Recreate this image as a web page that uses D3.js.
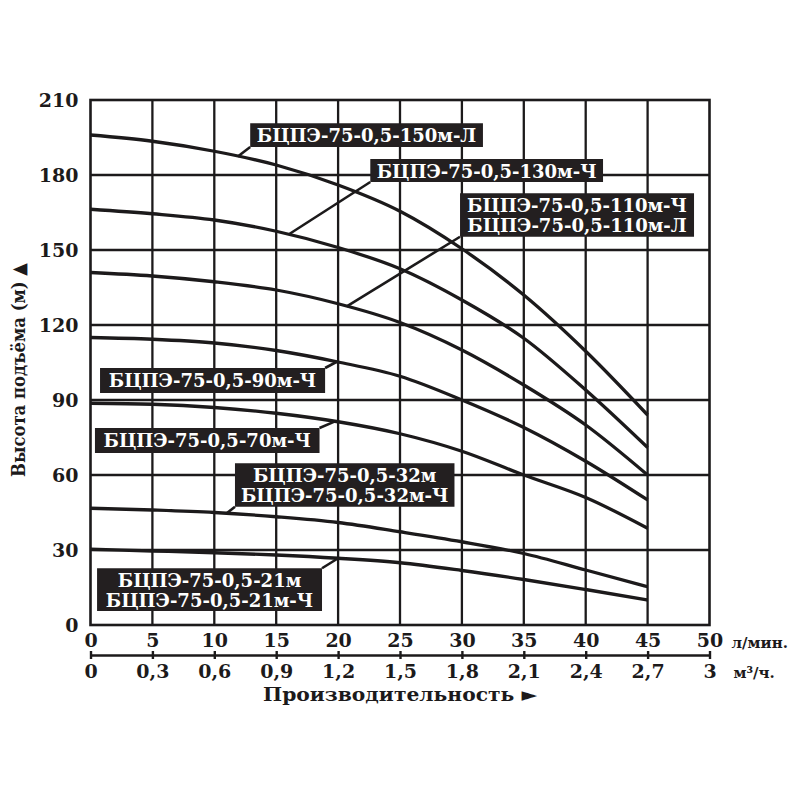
<!DOCTYPE html>
<html>
<head>
<meta charset="utf-8">
<script src="https://cdnjs.cloudflare.com/ajax/libs/d3/7.8.5/d3.min.js"></script>
<style>
  body { margin: 0; background: #fff; }
  svg { display: block; }
  text { font-family: "DejaVu Serif", "Liberation Serif", serif; font-weight: bold; fill: #1c1a1b; }
</style>
</head>
<body>
<svg id="chart" width="800" height="800"></svg>
<script>
// flow, l/min
const flow = [0, 5, 10, 15, 20, 25, 30, 35, 40, 45]

// head, m (one array per pump curve)
const head150L  = [196, 193.5, 189.5, 184, 176, 165.5, 150.5, 132, 109.5, 84]
const head130Ch = [166.3, 164.5, 162, 157.5, 151, 142.5, 130, 114.7, 94, 71]
const head110   = [141, 139.6, 137.3, 134, 128.5, 121, 110, 96, 80, 60]
const head90Ch  = [115, 114.3, 112.8, 109.8, 105.2, 99.5, 90, 79, 65.5, 50]
const head70Ch  = [88.7, 88.3, 87, 84.7, 81.3, 76.5, 69.5, 60, 51, 38.7]
const head32    = [46.7, 46, 45, 43.3, 41, 37.3, 33.3, 28.6, 22, 15.3]
const head21    = [30.3, 29.6, 28.9, 28, 26.7, 24.9, 21.8, 18.2, 14.2, 10]

const curves = [head150L, head130Ch, head110, head90Ch, head70Ch, head32, head21]

const lpmTicks = [0, 5, 10, 15, 20, 25, 30, 35, 40, 45, 50]
const m3Labels = ["0", "0,3", "0,6", "0,9", "1,2", "1,5", "1,8", "2,1", "2,4", "2,7", "3"]
const headTicks = [0, 30, 60, 90, 120, 150, 180, 210]

const labelNames = [
  ["БЦПЭ-75-0,5-150м-Л"],
  ["БЦПЭ-75-0,5-130м-Ч"],
  ["БЦПЭ-75-0,5-110м-Ч", "БЦПЭ-75-0,5-110м-Л"],
  ["БЦПЭ-75-0,5-90м-Ч"],
  ["БЦПЭ-75-0,5-70м-Ч"],
  ["БЦПЭ-75-0,5-32м", "БЦПЭ-75-0,5-32м-Ч"],
  ["БЦПЭ-75-0,5-21м", "БЦПЭ-75-0,5-21м-Ч"]
]

// label box placement in data units: [x0, x1, yTop, yBottom, corner, flow at curve]
const labelBoxes = [
  [12.9, 31.7, 200.7, 191.2, "bl", 11.9],
  [22.6, 41.4, 186.4, 177.2, "bl", 16.0],
  [29.85, 48.75, 172.7, 155.3, "bl", 20.7],
  [0.77, 18.95, 102.8, 92.8, "tr", 19.9],
  [0.36, 18.5, 78.8, 68.8, "tr", 19.75],
  [11.67, 29.4, 64.7, 47.3, "bl", 11.0],
  [0.53, 18.7, 22.7, 5.6, "tr", 20.0]
]

const margin = {left: 90.5, top: 100, right: 90.5, bottom: 175}
const width = 800 - margin.left - margin.right
const height = 800 - margin.top - margin.bottom
const ink = "#1c1a1b"

const x = d3.scaleLinear().domain([0, 50]).range([0, width])
const y = d3.scaleLinear().domain([0, 210]).range([height, 0])

const svg = d3.select("#chart")
const g = svg.append("g").attr("transform", `translate(${margin.left},${margin.top})`)

// grid
g.append("g").selectAll("line")
  .data(lpmTicks.slice(1, -1))
  .join("line")
  .attr("x1", d => x(d)).attr("x2", d => x(d))
  .attr("y1", 0).attr("y2", height)
  .attr("stroke", ink).attr("stroke-width", 2.3)

g.append("g").selectAll("line")
  .data(headTicks.slice(1, -1))
  .join("line")
  .attr("x1", 0).attr("x2", width)
  .attr("y1", d => y(d)).attr("y2", d => y(d))
  .attr("stroke", ink).attr("stroke-width", 2.3)

g.append("rect")
  .attr("width", width).attr("height", height)
  .attr("fill", "none").attr("stroke", ink).attr("stroke-width", 2.6)

// curves
const line = d3.line()
  .x((d, i) => x(flow[i]))
  .y(d => y(d))
  .curve(d3.curveMonotoneX)

g.append("g").selectAll("path")
  .data(curves)
  .join("path")
  .attr("d", line)
  .attr("fill", "none").attr("stroke", ink).attr("stroke-width", 3.3)

// axes
const yAxis = g.append("g")
  .call(d3.axisLeft(y).tickValues(headTicks).tickSize(0).tickPadding(12))
yAxis.select(".domain").remove()
yAxis.selectAll("text")
  .attr("font-size", 19).attr("font-family", null).attr("dy", "0.36em")

const xAxis = g.append("g")
  .attr("transform", `translate(0,${height})`)
  .call(d3.axisBottom(x).tickValues(lpmTicks).tickSize(0))
xAxis.select(".domain").remove()
xAxis.selectAll("text")
  .attr("font-size", 19).attr("font-family", null).attr("y", 22).attr("dy", null)

const m3Axis = g.append("g")
  .attr("transform", `translate(0,${height + 30})`)
  .call(d3.axisBottom(x).tickValues(lpmTicks).tickFormat((d, i) => m3Labels[i]).tickSizeInner(4).tickSizeOuter(0))
m3Axis.select(".domain").attr("stroke", ink).attr("stroke-width", 2.4)
m3Axis.selectAll(".tick line").attr("y1", -4).attr("stroke", ink).attr("stroke-width", 2.4)
m3Axis.selectAll("text")
  .attr("font-size", 19).attr("font-family", null).attr("y", 23).attr("dy", null)

g.append("text")
  .attr("x", width + 22).attr("y", height + 23)
  .attr("font-size", 15)
  .text("л/мин.")

g.append("text")
  .attr("x", width + 24).attr("y", height + 53)
  .attr("font-size", 15)
  .text("м³/ч.")

svg.append("text")
  .attr("x", 400).attr("y", 701)
  .attr("text-anchor", "middle")
  .attr("font-size", 19)
  .attr("textLength", 274).attr("lengthAdjust", "spacingAndGlyphs")
  .text("Производительность ►")

svg.append("text")
  .attr("transform", "translate(25,370) rotate(-90)")
  .attr("text-anchor", "middle")
  .attr("font-size", 19)
  .attr("textLength", 214).attr("lengthAdjust", "spacingAndGlyphs")
  .text("Высота подъёма (м) ▲")

// labels with leader lines
const ann = g.append("g")
labelBoxes.forEach((b, i) => {
  const [x0, x1, yT, yB, corner, fx] = b
  const onCurve = d3.scaleLinear().domain(flow).range(curves[i])
  const cx = corner === "bl" ? x(x0) : x(x1)
  const cy = corner === "bl" ? y(yB) : y(yT)
  ann.append("line")
    .attr("x1", cx).attr("y1", cy)
    .attr("x2", x(fx)).attr("y2", y(onCurve(fx)))
    .attr("stroke", ink).attr("stroke-width", 2.6)
})

labelBoxes.forEach((b, i) => {
  const [x0, x1, yT, yB] = b
  ann.append("rect")
    .attr("x", x(x0)).attr("y", y(yT))
    .attr("width", x(x1) - x(x0)).attr("height", y(yB) - y(yT))
    .attr("fill", "#231f20")
  labelNames[i].forEach((t, j) => {
    ann.append("text")
      .attr("x", (x(x0) + x(x1)) / 2)
      .attr("y", y(yT) + 18.5 + j * 20)
      .attr("text-anchor", "middle")
      .attr("font-size", 18)
      .style("fill", "#fff")
      .text(t)
  })
})
</script>
</body>
</html>
